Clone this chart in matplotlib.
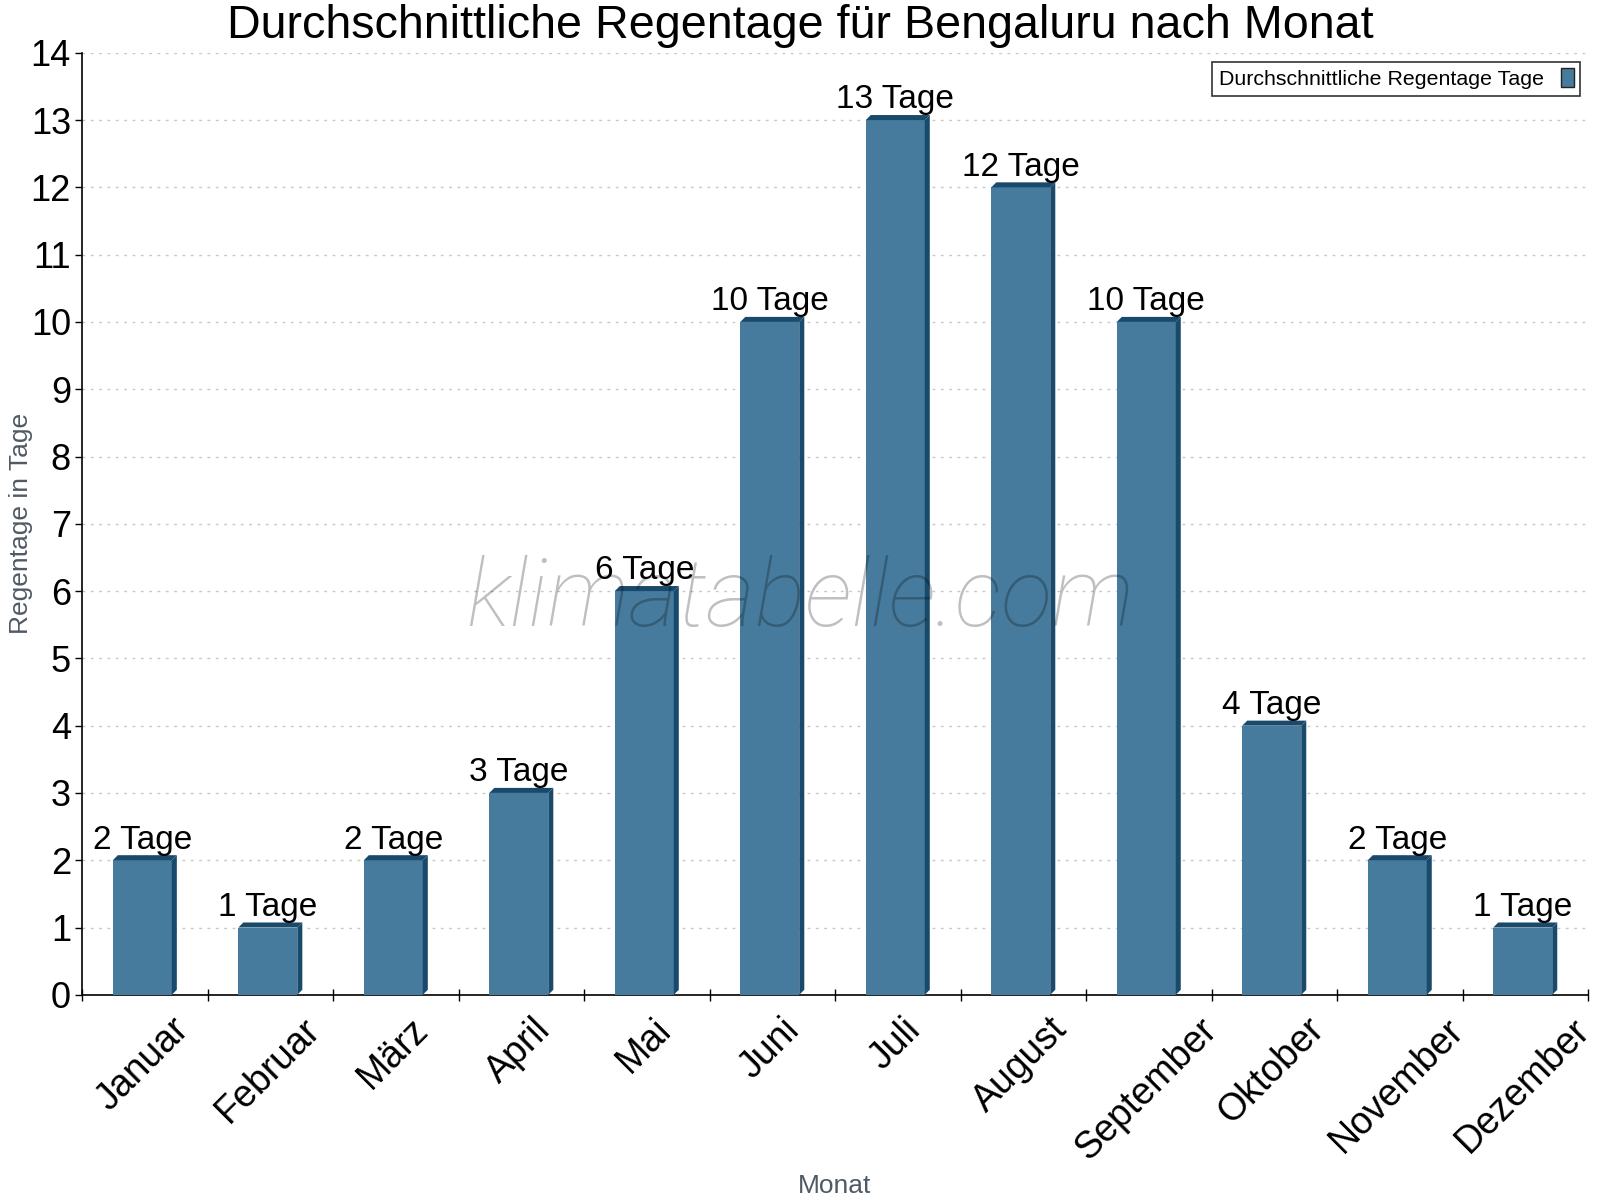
import numpy as np
import matplotlib.pyplot as plt
from matplotlib.patches import Polygon, Patch

plt.rcParams['font.family'] = ['Liberation Sans', 'DejaVu Sans']

# data
months = ["Januar", "Februar", "März", "April", "Mai", "Juni",
          "Juli", "August", "September", "Oktober", "November", "Dezember"]
rain_days = [2, 1, 2, 3, 6, 10, 13, 12, 10, 4, 2, 1]
value_labels = [f"{v} Tage" for v in rain_days]

front_color = '#467b9d'
dark_color = '#1a4a6b'

fig = plt.figure(figsize=(16, 12), dpi=100)
ax = fig.add_axes([0.0513, 0.171, 0.9412, 0.785])

x = np.arange(len(months))
centers = x + 0.48
width = 0.47
dx, dy = 0.04, 0.075

bars = ax.bar(centers, rain_days, width=width, color=front_color, zorder=3)

# fake 3d: top face and right side of each bar
for b in bars:
    x0, x1, h = b.get_x(), b.get_x() + b.get_width(), b.get_height()
    top = Polygon([(x0, h), (x0 + dx, h + dy), (x1 + dx, h + dy), (x1, h)],
                  closed=True, facecolor=dark_color, edgecolor='none', zorder=3)
    side = Polygon([(x1, 0), (x1, h), (x1 + dx, h + dy), (x1 + dx, dy)],
                   closed=True, facecolor=dark_color, edgecolor='none', zorder=3)
    ax.add_patch(top)
    ax.add_patch(side)

for c, v, lab in zip(centers, rain_days, value_labels):
    ax.text(c, v + 0.07, lab, ha='center', va='bottom', fontsize=24, zorder=4)

ax.set_xlim(0, len(months))
ax.set_ylim(0, 14)
ax.set_yticks(range(0, 15))
ax.tick_params(axis='y', labelsize=26, length=5, width=1, pad=3)

ax.set_xticks(centers)
ax.set_xticklabels(months, rotation=45, ha='center', fontsize=27)
ax.tick_params(axis='x', which='major', length=0, pad=12)
ax.set_xticks(np.arange(0, len(months) + 1), minor=True)
ax.tick_params(axis='x', which='minor', direction='inout', length=9, width=1)

ax.grid(axis='y', linestyle=(0, (2, 4)), color='#c8c8c8', linewidth=1, zorder=0)
ax.set_axisbelow(True)

for s in ['top', 'right']:
    ax.spines[s].set_visible(False)
ax.spines['left'].set_linewidth(1.2)
ax.spines['bottom'].set_linewidth(1.2)

fig.text(0.5, 0.997, "Durchschnittliche Regentage für Bengaluru nach Monat",
         ha='center', va='top', fontsize=33.6)
ax.set_ylabel("Regentage in Tage", fontsize=19, color='#505a64')
ax.yaxis.set_label_coords(-0.0325, 0.5)
ax.set_xlabel("Monat", fontsize=19, color='#505a64')
ax.xaxis.set_label_coords(0.5, -0.19)

fig.text(0.5, 0.5, "klimatabelle.com", ha='center', va='center',
         fontsize=68, style='italic', family=['Roboto', 'Liberation Sans'],
         fontweight='light', color='black', alpha=0.25, zorder=5)

handle = Patch(facecolor=front_color, edgecolor='#222222', linewidth=1)
leg = ax.legend([handle], ["Durchschnittliche Regentage Tage"], loc='upper right',
                bbox_to_anchor=(0.9975, 0.995), fontsize=15.4, markerfirst=False,
                frameon=True, fancybox=False, handlelength=0.6, handleheight=1.0,
                borderpad=0.3, handletextpad=0.8, borderaxespad=0.2)
leg.get_frame().set_edgecolor('black')
leg.get_frame().set_linewidth(1.2)

fig.savefig("out.png", dpi=100)
